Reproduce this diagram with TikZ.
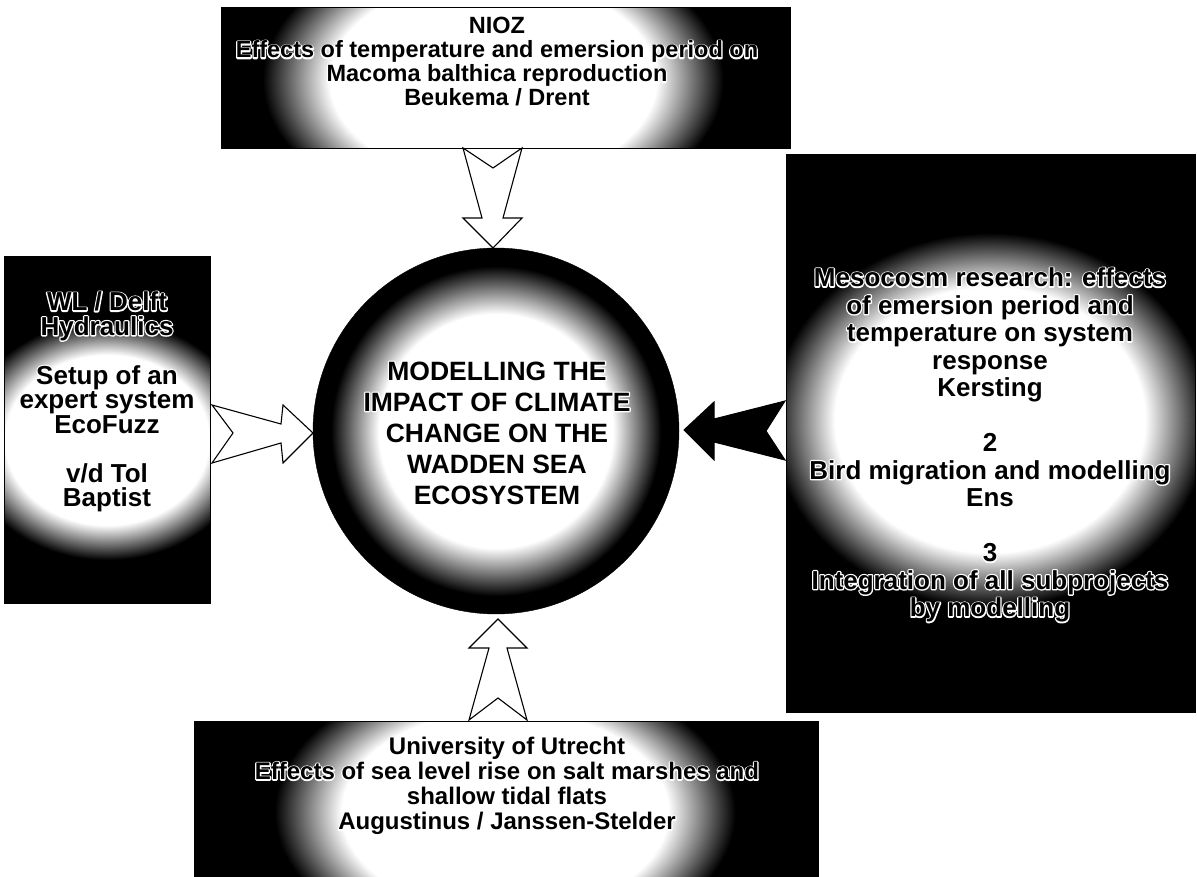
\documentclass[tikz,border=0pt]{standalone}
\usepackage{fontspec}
\setmainfont{Liberation Sans}
\pgfdeclareradialshading{glow}{\pgfpoint{0bp}{0bp}}{color(0bp)=(white); color(17bp)=(white); color(24bp)=(black); color(50bp)=(black)}
% white outline layer (PDF text render mode 1: stroke only) and black fill layer
\newcommand{\olstroke}[1]{\special{pdf:code 1 Tr 1 1 1 RG 2.6 w 1 j}#1\special{pdf:code 0 Tr 0 0 0 RG}}
\newcommand{\olfill}[1]{#1}
\newcommand{\ol}[1]{#1}
\newcommand{\twin}[4]{% name, options, position, text
  \node[txt,#2,execute at begin node={\let\ol\olstroke}] at #3 {#4};
  \node[txt,#2,execute at begin node={\let\ol\olfill}] (#1) at #3 {#4};}
\tikzset{
  panel/.style={draw=black, fill=black, line width=1pt, inner sep=0pt, rectangle},
  hub/.style={draw=black, fill=black, circle, inner sep=0pt, minimum size=366pt},
  txt/.style={align=center, text=black, inner sep=0pt},
  hollow/.style={draw=black, fill=white, line width=1.1pt, line join=miter},
  solid/.style={draw=black, fill=black, line width=1pt, line join=miter}
}
\begin{document}
\begin{tikzpicture}[x=1pt,y=-1pt]
\useasboundingbox (0,0) rectangle (1197,877);
\fill[white] (0,0) rectangle (1197,877);

% panels
\node[panel, minimum width=568pt, minimum height=140pt] (top) at (506,78) {};
\node[panel, minimum width=205pt, minimum height=346pt] (left) at (107.5,430) {};
\node[panel, minimum width=408pt, minimum height=557pt] (right) at (991,433.5) {};
\node[panel, minimum width=623pt, minimum height=160pt] (bottom) at (506.5,802) {};
\node[hub] (hub) at (496,431) {};

% glows and texts
\begin{scope}
\clip (top.south west) rectangle (top.north east);
\shade[shading=glow] (493,80) ellipse [x radius=240pt, y radius=150pt];
\twin{toptext}{font=\bfseries\fontsize{23.5}{24}\selectfont}{(497,62)}
 {\ol{NIOZ}\\ \ol{Effects of temperature and emersion period on}\\ \ol{Macoma balthica reproduction}\\ \ol{Beukema / Drent}}
\end{scope}

\begin{scope}
\clip (left.south west) rectangle (left.north east);
\shade[shading=glow] (107,440) ellipse [x radius=150pt, y radius=125pt];
\twin{lefttext}{font=\bfseries\fontsize{26}{24.5}\selectfont}{(107,402)}
 {\ol{WL / Delft}\\ \ol{Hydraulics}\\[24.5pt] \ol{Setup of an}\\ \ol{expert system}\\ \ol{EcoFuzz}\\[24.5pt] \ol{v/d Tol}\\ \ol{Baptist}}
\end{scope}

\begin{scope}
\clip (right.south west) rectangle (right.north east);
\shade[shading=glow] (990,420) ellipse [x radius=228pt, y radius=195pt];
\twin{righttext}{font=\bfseries\fontsize{26}{27.5}\selectfont}{(990,445)}
 {\ol{Mesocosm research: effects}\\ \ol{of emersion period and}\\ \ol{temperature on system}\\ \ol{response}\\ \ol{Kersting}\\[27.5pt] \ol{2}\\ \ol{Bird migration and modelling}\\ \ol{Ens}\\[27.5pt] \ol{3}\\ \ol{Integration of all subprojects}\\ \ol{by modelling}}
\end{scope}

\begin{scope}
\clip (bottom.south west) rectangle (bottom.north east);
\shade[shading=glow] (505,812) ellipse [x radius=240pt, y radius=150pt];
\twin{bottomtext}{font=\bfseries\fontsize{24}{25}\selectfont}{(507,786)}
 {\ol{University of Utrecht}\\ \ol{Effects of sea level rise on salt marshes and}\\ \ol{shallow tidal flats}\\ \ol{Augustinus / Janssen-Stelder}}
\end{scope}

\begin{scope}
\clip (hub.center) circle [radius=183pt];
\shade[shading=glow] (hub.center) circle [radius=172pt];
\end{scope}
\twin{hubtext}{font=\bfseries\fontsize{26.5}{31}\selectfont}{(497,433)}
 {\ol{MODELLING THE}\\ \ol{IMPACT OF CLIMATE}\\ \ol{CHANGE ON THE}\\ \ol{WADDEN SEA}\\ \ol{ECOSYSTEM}}

% borders
\draw[line width=1pt] (top.south west) rectangle (top.north east);
\draw[line width=1pt] (left.south west) rectangle (left.north east);
\draw[line width=1pt] (right.south west) rectangle (right.north east);
\draw[line width=1pt] (bottom.south west) rectangle (bottom.north east);

% block arrows
\draw[hollow] (463,148) -- (493,168) -- (522,148) -- (503,218) -- (522,218) -- (493,248)
  -- (463,218) -- (482,218) -- cycle;
\draw[hollow] (212,405) -- (281,424) -- (283,405) -- (313,433) -- (283,463) -- (281,443)
  -- (212,463) -- (233,433) -- cycle;
\draw[solid] (785,401) -- (714,419) -- (714,402) -- (684,430) -- (714,460) -- (714,442)
  -- (785,460) -- (766,431) -- cycle;
\draw[hollow] (469,720) -- (489,648) -- (469,648) -- (498,619) -- (527,648) -- (507,648)
  -- (527,720) -- (498,698) -- cycle;
\end{tikzpicture}
\end{document}
